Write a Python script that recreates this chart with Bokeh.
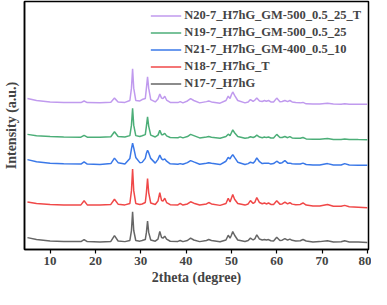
from bokeh.plotting import figure
from bokeh.models import Range1d, FixedTicker, Legend, LegendItem
from bokeh.embed import file_html
from bokeh.resources import INLINE

two_theta = [5.0, 7, 10, 13, 16.8, 17.5, 18.2, 21, 23.4, 24.2,
             25.0, 26.5, 27.6, 27.95, 28.2, 28.45, 28.9, 29.8, 30.3, 31.0,
             31.25, 31.5, 31.75, 32.2, 33.2, 33.8, 34.2, 34.6, 34.9, 35.3,
             35.7, 36.5, 38.2, 38.7, 39.3, 40.3, 41.0, 41.7, 43.0, 44.5,
             45.0, 45.6, 47.5, 48.8, 49.3, 49.7, 50.0, 50.3, 50.7, 51.4,
             53.0, 53.7, 54.2, 54.8, 55.2, 55.6, 56.2, 56.8, 57.3, 57.7,
             58.2, 58.7, 59.3, 60.0, 60.7, 61.2, 61.8, 62.4, 62.9, 63.4,
             64.2, 65.2, 65.8, 66.5, 68, 69.5, 71.2, 72.5, 74.2, 75.0,
             76, 78, 80]

n17 = [12.5, 10.5, 9.0, 8.5, 8.3, 10.5, 8.3, 8.0, 8.5, 14.7,
       9.0, 8.3, 9.5, 20, 39.7, 20, 9.5, 8.8, 9.5, 10.5,
       18, 30, 18, 10, 8.8, 11, 19, 12.5, 12, 14,
       11, 8.7, 8.5, 9.5, 8.3, 9.5, 12, 10, 8.3, 9.5,
       10.5, 9.5, 8.2, 10, 15, 12, 15, 19, 15, 10,
       8.5, 9.5, 12, 10, 11.5, 15.5, 11, 10, 10.5, 10,
       10.5, 9.2, 9, 13, 9.5, 9.8, 11.5, 9.8, 11, 9.7,
       9, 9.2, 10.5, 9, 8, 8.3, 9.3, 8, 8.2, 9.3,
       8, 8, 7.5]

n18 = [50, 48.5, 47.5, 47, 47, 51.3, 47, 46.8, 47.5, 53,
       47.8, 47, 48.5, 62, 84.7, 62, 48.5, 47.5, 48, 49.5,
       60, 74.7, 60, 49, 47.5, 51, 60, 51.5, 51, 54,
       49.5, 47.2, 47, 48.5, 46.8, 48, 50.3, 48.8, 46.8, 48,
       49.5, 48, 46.5, 48.5, 54, 50, 54, 58, 53, 48.5,
       46.8, 48, 51.5, 48.5, 50, 54.7, 49.5, 48.2, 49, 48,
       49, 47.5, 47.5, 51.3, 47.8, 48, 50, 48, 49.5, 47.8,
       47.2, 47.5, 49, 46.8, 45.8, 45.8, 47.5, 45.5, 45.5, 46.5,
       45, 44.5, 44]

n21 = [94.7, 92.5, 91, 90.3, 90, 92.3, 90, 89.6, 90.5, 96.3,
       91.5, 90, 96, 106, 112, 107, 97, 91.5, 91.8, 96,
       101.5, 104.5, 102, 96, 91, 95, 99.5, 95.5, 94.5, 95.5,
       93, 90.3, 89.8, 90.5, 89.8, 91.5, 93.7, 92.3, 89.8, 90.8,
       91.5, 90.8, 89.5, 93, 97, 95.5, 98, 100, 97, 92,
       89.6, 90.5, 92, 91, 93, 96.5, 92.5, 90.5, 90.8, 90.8,
       91, 90, 90.5, 93, 90.8, 91.5, 93.7, 91, 91, 90.3,
       90, 90, 91, 89.5, 89, 89, 90.5, 89, 89, 90.5,
       89, 88.7, 88.7]

n19 = [121.3, 119.8, 119, 118.5, 118.3, 120.3, 118.3, 118.3, 118.8, 124,
       119, 118.5, 120, 131, 148.7, 131, 120, 119, 119.8, 121,
       130, 139.7, 130, 120.5, 118.6, 120.5, 125.5, 121, 121, 122.3,
       119.7, 118, 117.8, 118.7, 117.6, 119, 121.3, 120, 117.6, 118.5,
       119, 118.3, 117.3, 119, 121.5, 120, 123, 126, 123, 119,
       117.3, 117.8, 118.8, 118, 118.8, 120.5, 118.5, 117.8, 118.5, 117.9,
       118.5, 117.5, 117.5, 121.3, 118, 118, 119, 117.8, 119, 117.6,
       117.2, 117.2, 118, 116.5, 116.2, 116.2, 117, 116, 116, 116.5,
       116, 115.8, 115.7]

n20 = [159, 157, 155.5, 155, 154.8, 156.5, 154.8, 154.5, 155.2, 159.5,
       155.5, 155, 157, 170, 190.3, 170, 157, 156.5, 158, 159,
       170, 182, 170, 158, 155.5, 158.5, 163.7, 159.5, 159, 161.5,
       157.5, 155, 154.8, 155.8, 154.5, 156.5, 159, 157, 154.5, 155.8,
       156.5, 155.5, 154.2, 157, 161.5, 159, 163, 166, 162.5, 157,
       154.5, 155.5, 158, 156, 157.5, 159.7, 156.5, 156, 157, 156.2,
       157, 155.5, 155.5, 159.5, 155.8, 156, 157, 155.8, 157, 155.5,
       155, 154.5, 155, 153.5, 153.3, 153.3, 154, 153.2, 153, 153.5,
       153, 153, 153]

labels = ["N20-7_H7hG_GM-500_0.5_25_T", "N19-7_H7hG_GM-500_0.5_25",
          "N21-7_H7hG_GM-400_0.5_10", "N18-7_H7hG_T", "N17-7_H7hG"]
series = [n20, n19, n21, n18, n17]
colors = ["#c09aee", "#4cae78", "#3a78e8", "#f04848", "#666666"]
x_ticks = [10, 20, 30, 40, 50, 60, 70, 80]

FONT = "Liberation Serif"

p = figure(width=371, height=289, output_backend="svg", toolbar_location=None,
           x_range=Range1d(4.35, 80.25), y_range=Range1d(0, 261.3),
           min_border_left=22, min_border_right=3, min_border_top=1,
           min_border_bottom=40)
p.outline_line_color = "black"
p.outline_line_width = 1.5
p.xgrid.visible = False
p.ygrid.visible = False

renderers = {}
for lab, ys, col in reversed(list(zip(labels, series, colors))):
    renderers[lab] = p.line(two_theta, ys, line_color=col, line_width=1.5)

xa = p.xaxis[0]
xa.ticker = FixedTicker(ticks=x_ticks)
xa.axis_label = "2theta (degree)"
xa.axis_label_text_font = FONT
xa.axis_label_text_font_style = "bold"
xa.axis_label_text_font_size = "14px"
xa.axis_label_standoff = 2
xa.major_label_text_font = FONT
xa.major_label_text_font_style = "bold"
xa.major_label_text_font_size = "13px"
xa.major_label_standoff = 3
xa.major_tick_in = 0
xa.major_tick_out = 4
xa.minor_tick_line_color = None
xa.axis_line_width = 1.5
xa.major_tick_line_width = 1.2

ya = p.yaxis[0]
ya.ticker = FixedTicker(ticks=[])
ya.axis_label = "Intensity (a.u.)"
ya.axis_label_text_font = FONT
ya.axis_label_text_font_style = "bold"
ya.axis_label_text_font_size = "14px"
ya.axis_label_standoff = 6
ya.major_tick_line_color = None
ya.minor_tick_line_color = None
ya.major_label_text_font_size = "0px"
ya.axis_line_width = 1.5

legend = Legend(items=[LegendItem(label=l, renderers=[renderers[l]]) for l in labels],
                location="top_right")
legend.border_line_alpha = 0
legend.background_fill_alpha = 0
legend.label_text_font = FONT
legend.label_text_font_style = "bold"
legend.label_text_font_size = "12.5px"
legend.glyph_width = 31
legend.glyph_height = 15
legend.label_height = 15
legend.spacing = 2
legend.label_standoff = 3
legend.padding = 5
legend.margin = 2
p.add_layout(legend)

open("out.html", "w").write(file_html(p, INLINE))
